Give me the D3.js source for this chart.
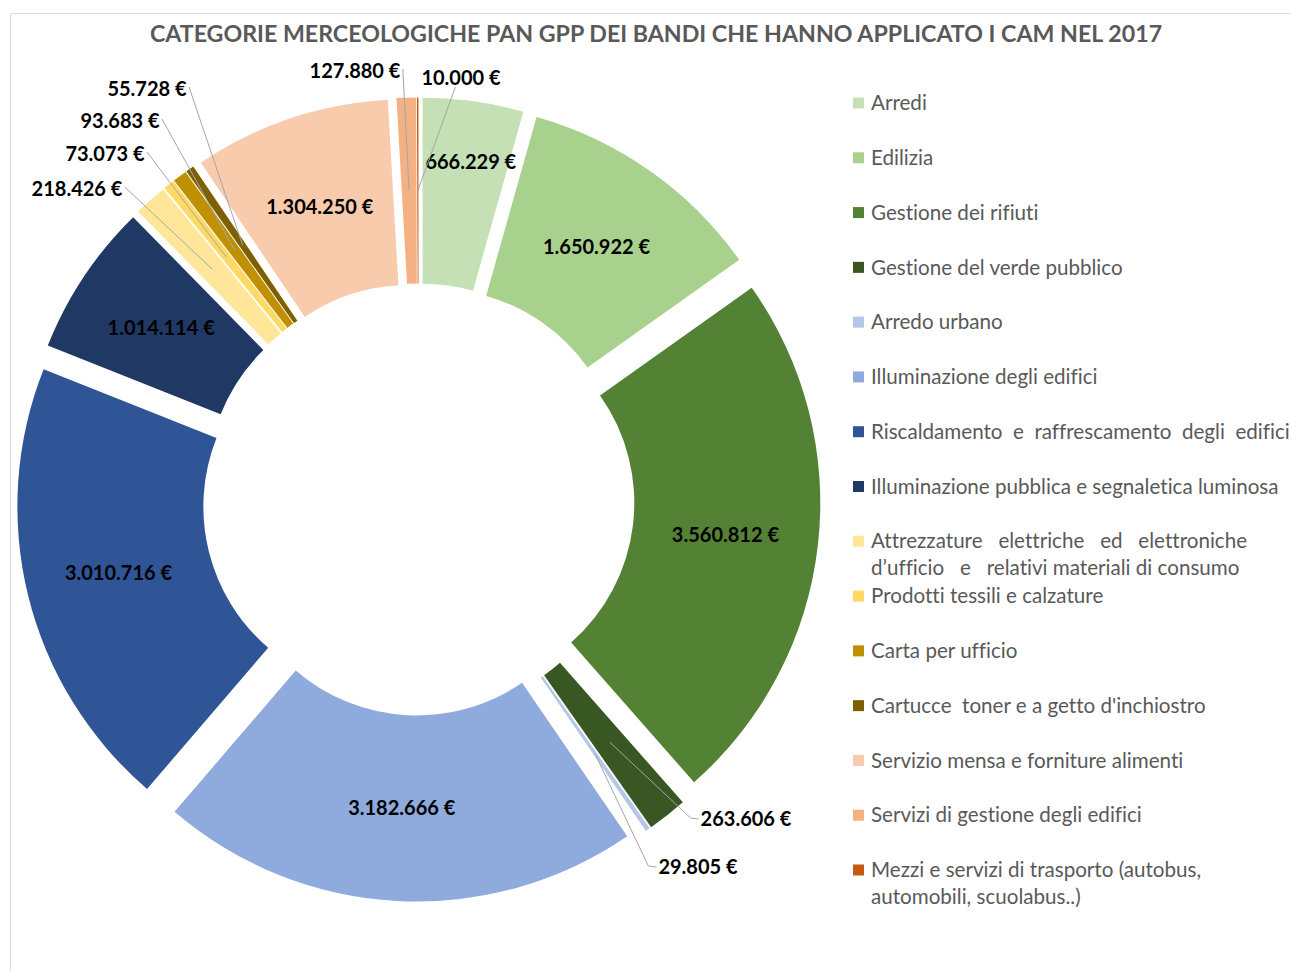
<!DOCTYPE html>
<html>
<head>
<meta charset="utf-8"/>
<title>Categorie merceologiche PAN GPP 2017</title>
<style>
body { margin: 0; background: #fff; }
svg text { font-family: Lato, "Open Sans", sans-serif; }
</style>
<script src="https://d3js.org/d3.v7.min.js"></script>
</head>
<body>
<div id="chart"></div>
<script>
// categories and values (euro)
var categories = [
  "Arredi",
  "Edilizia",
  "Gestione dei rifiuti",
  "Gestione del verde pubblico",
  "Arredo urbano",
  "Illuminazione degli edifici",
  "Riscaldamento  e  raffrescamento  degli  edifici",
  "Illuminazione pubblica e segnaletica luminosa",
  "Attrezzature   elettriche   ed   elettroniche|d\u2019ufficio   e   relativi materiali di consumo",
  "Prodotti tessili e calzature",
  "Carta per ufficio",
  "Cartucce  toner e a getto d'inchiostro",
  "Servizio mensa e forniture alimenti",
  "Servizi di gestione degli edifici",
  "Mezzi e servizi di trasporto (autobus,|automobili, scuolabus..)"
];
var values = [666229, 1650922, 3560812, 263606, 29805, 3182666, 3010716,
  1014114, 218426, 73073, 93683, 55728, 1304250, 127880, 10000];
var colors = ["#c5e0b4", "#a9d18e", "#548235", "#385723", "#b4c7e7", "#8faadc",
  "#2f5597", "#203864", "#ffe699", "#ffd966", "#bf9000", "#7f6000",
  "#f8cbad", "#f4b183", "#c55a11"];

var title = "CATEGORIE MERCEOLOGICHE PAN GPP DEI BANDI CHE HANNO APPLICATO I CAM NEL 2017";

// label placement for the small slices (moved outside, with leader line)
// side: where the leader leaves the label
var outside = {
  3:  {x: 746, y: 819, side: "left"},
  4:  {x: 698, y: 867, side: "left"},
  8:  {x: 77,  y: 189, side: "right"},
  9:  {x: 105, y: 154, side: "right"},
  10: {x: 120, y: 121, side: "right"},
  11: {x: 147, y: 89,  side: "right"},
  13: {x: 355, y: 71,  side: "right"},
  14: {x: 461, y: 78,  side: "bottom"}
};

var width = 1291, height = 971;
var cx = 418.5, cy = 499.5;
var outerR = 372, innerR = 186, explode = 30;
var labelSize = 20;

var svg = d3.select("#chart").append("svg")
  .attr("width", width)
  .attr("height", height);

// chart frame
svg.append("path")
  .attr("d", "M10.5," + height + "V13.5H" + width)
  .attr("fill", "none")
  .attr("stroke", "#d9d9d9")
  .attr("stroke-width", 1);

svg.append("text")
  .attr("x", 656)
  .attr("y", 34)
  .attr("dy", "0.35em")
  .attr("text-anchor", "middle")
  .attr("font-size", 23.2)
  .attr("font-weight", "bold")
  .attr("fill", "#595959")
  .text(title);

var it = d3.formatLocale({decimal: ",", thousands: ".", grouping: [3], currency: ["", " \u20ac"]});
var fmt = it.format("$,");

var pie = d3.pie().sort(null).value(function(d) { return d; });
var arcs = pie(values);

var arc = d3.arc().innerRadius(innerR).outerRadius(outerR);

function shift(d) {
  var a = (d.startAngle + d.endAngle) / 2;
  return [explode * Math.sin(a), -explode * Math.cos(a)];
}

var g = svg.append("g").attr("transform", "translate(" + cx + "," + cy + ")");

g.selectAll("path.slice")
  .data(arcs)
  .enter()
  .append("path")
  .attr("class", "slice")
  .attr("d", arc)
  .attr("fill", function(d, i) { return colors[i]; })
  .attr("transform", function(d) { var s = shift(d); return "translate(" + s[0] + "," + s[1] + ")"; });

// labels
arcs.forEach(function(d, i) {
  var s = shift(d);
  var c = arc.centroid(d);
  var ax = c[0] + s[0], ay = c[1] + s[1];
  var o = outside[i];
  if (!o) {
    var lx = ax, ly = ay;
    if (i === 0) {
      // Arredi label pushed outwards to leave room for the leader line
      var a = (d.startAngle + d.endAngle) / 2 + 0.018;
      lx = Math.sin(a) * 312 + s[0]; ly = -Math.cos(a) * 312 + s[1];
    }
    g.append("text")
      .attr("x", lx).attr("y", ly).attr("dy", "0.35em")
      .attr("text-anchor", "middle")
      .attr("font-size", labelSize).attr("font-weight", "bold").attr("fill", "#000")
      .text(fmt(values[i]));
    return;
  }
  var t = svg.append("text")
    .attr("x", o.x).attr("y", o.y).attr("dy", "0.35em")
    .attr("text-anchor", "middle")
    .attr("font-size", labelSize).attr("font-weight", "bold").attr("fill", "#000")
    .text(fmt(values[i]));
  var bb = t.node().getBBox();
  var sx, sy, pts;
  var px = ax + cx, py = ay + cy;
  if (o.side === "right") {
    sx = bb.x + bb.width + 2; sy = o.y - 2;
    pts = [[sx, sy], [px, py]];
  } else if (o.side === "left") {
    sx = bb.x - 2; sy = o.y;
    pts = [[sx, sy], [sx - 8, sy - 1], [px, py]];
  } else {
    sx = bb.x + 34; sy = bb.y + bb.height - 2;
    pts = [[sx, sy], [px, py]];
  }
  svg.append("path")
    .attr("d", d3.line()(pts))
    .attr("fill", "none")
    .attr("stroke", "#a6a6a6")
    .attr("stroke-width", 1);
});

// legend
var legend = svg.append("g").attr("class", "legend");
var rowY = d3.scaleLinear().domain([0, categories.length - 1]).range([103, 870]);
categories.forEach(function(name, i) {
  var y = rowY(i);
  legend.append("rect")
    .attr("x", 853).attr("y", y - 5.5)
    .attr("width", 11).attr("height", 11)
    .attr("fill", colors[i]);
  var lines = name.split("|");
  lines.forEach(function(line, k) {
    legend.append("text")
      .attr("x", 871).attr("y", y + k * 27).attr("dy", "0.35em")
      .attr("font-size", 20.6).attr("fill", "#595959")
      .style("white-space", "pre")
      .style("font-variant-ligatures", "none")
      .text(line);
  });
});
</script>
</body>
</html>
